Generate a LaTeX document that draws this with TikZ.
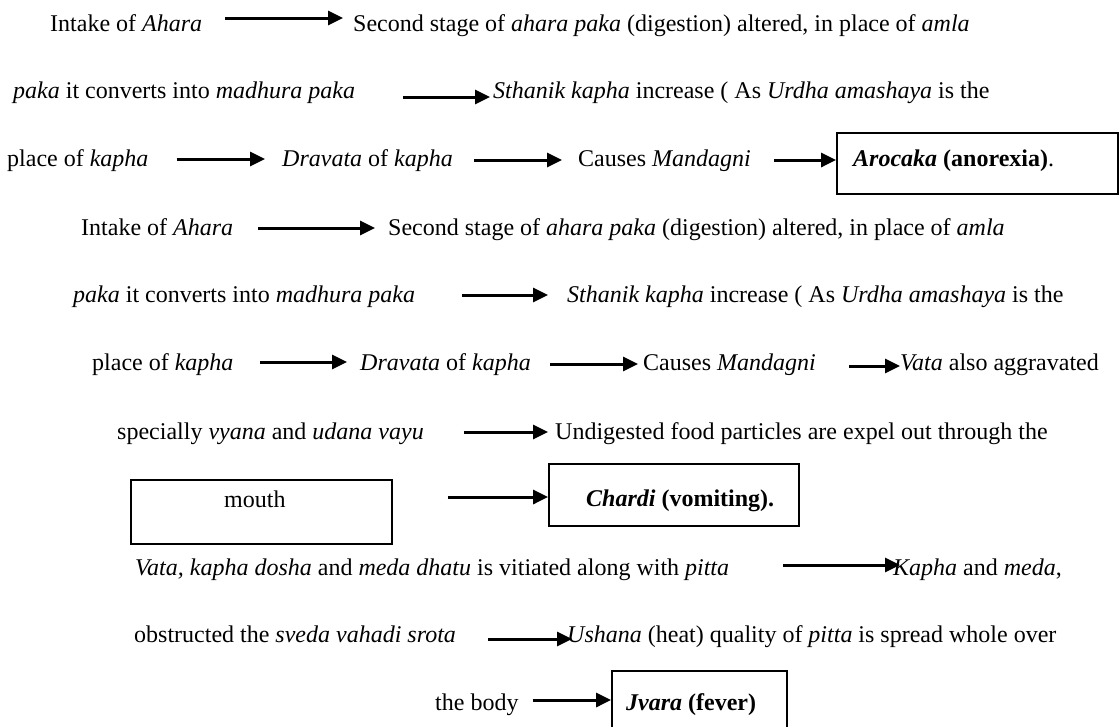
\documentclass[tikz,border=0pt]{standalone}
\usepackage{fontspec}
\setmainfont{Liberation Serif}
\usetikzlibrary{arrows.meta}

\begin{document}
\begin{tikzpicture}[x=1pt, y=-1pt,
    txt/.style={anchor=base west, inner sep=0pt, text height=18pt, text depth=4pt,
      font=\fontsize{24}{28}\selectfont},
    box/.style={draw, line width=1.8pt, inner sep=0pt},
    arr/.style={-{Triangle[length=15pt,width=14pt]}, line width=3pt}]
    \useasboundingbox (0,0) rectangle (1119,726);

    % Arocaka chain: three text rows ending in a box
    \node[txt] (intakeA) at (50,31) {Intake of \textit{Ahara}};
    \node[txt] (stageA) at (353,31) {Second stage of \textit{ahara paka} (digestion) altered, in place of \textit{amla}};
    \node[txt] (pakaA) at (13,98) {\textit{paka} it converts into \textit{madhura paka}};
    \node[txt] (sthanikA) at (493,98) {\textit{Sthanik kapha} increase ( As \textit{Urdha amashaya} is the};
    \node[txt] (placeA) at (7,166) {place of \textit{kapha}};
    \node[txt] (dravataA) at (282,166) {\textit{Dravata} of \textit{kapha}};
    \node[txt] (causesA) at (578,166) {Causes \textit{Mandagni}};
    \node[box, minimum width=281pt, minimum height=61pt] (arocakaBox) at (977.5,163.5) {};
    \node[txt] (arocaka) at (853,166) {\textbf{\textit{Arocaka} (anorexia)}.};

    \draw[arr] ([xshift=23pt,yshift=6pt]intakeA.east) -- ([xshift=-10pt,yshift=6pt]stageA.west);
    \draw[arr] ([xshift=48pt,yshift=-6pt]pakaA.east) -- ([xshift=-3pt,yshift=-6pt]sthanikA.west);
    \draw[arr] ([xshift=28pt]placeA.east) -- ([xshift=-17pt]dravataA.west);
    \draw[arr] ([xshift=21pt,yshift=-1pt]dravataA.east) -- ([xshift=-16pt,yshift=-1pt]causesA.west);
    \draw[arr] ([xshift=23pt,yshift=-1pt]causesA.east) -- ([yshift=3.5pt]arocakaBox.west);

    % Chardi chain
    \node[txt] (intakeB) at (81,235) {Intake of \textit{Ahara}};
    \node[txt] (stageB) at (388,235) {Second stage of \textit{ahara paka} (digestion) altered, in place of \textit{amla}};
    \node[txt] (pakaB) at (73,302) {\textit{paka} it converts into \textit{madhura paka}};
    \node[txt] (sthanikB) at (567,302) {\textit{Sthanik kapha} increase ( As \textit{Urdha amashaya} is the};
    \node[txt] (placeB) at (92,370) {place of \textit{kapha}};
    \node[txt] (dravataB) at (360,370) {\textit{Dravata} of \textit{kapha}};
    \node[txt] (causesB) at (643,370) {Causes \textit{Mandagni}};
    \node[txt] (vataB) at (900,370) {\textit{Vata} also aggravated};
    \node[txt] (vyanaB) at (117,439) {specially \textit{vyana} and \textit{udana vayu}};
    \node[txt] (expelB) at (555,439) {Undigested food particles are expel out through the};
    \node[box, minimum width=261pt, minimum height=64pt] (mouthBox) at (261.5,512) {};
    \node[txt] (mouth) at (224,507) {mouth};
    \node[box, minimum width=250pt, minimum height=62pt] (chardiBox) at (674,495) {};
    \node[txt] (chardi) at (586,506) {\textbf{\textit{Chardi} (vomiting).}};

    \draw[arr] ([xshift=25pt]intakeB.east) -- ([xshift=-13pt]stageB.west);
    \draw[arr] ([xshift=47pt]pakaB.east) -- ([xshift=-19pt]sthanikB.west);
    \draw[arr] ([xshift=26pt,yshift=1pt]placeB.east) -- ([xshift=-13pt,yshift=1pt]dravataB.west);
    \draw[arr] ([xshift=19pt,yshift=-1pt]dravataB.east) -- ([xshift=-5pt,yshift=-1pt]causesB.west);
    \draw[arr] ([xshift=33pt,yshift=-3pt]causesB.east) -- ([yshift=-3pt]vataB.west);
    \draw[arr] ([xshift=40pt]vyanaB.east) -- ([xshift=-7pt]expelB.west);
    \draw[arr] ([xshift=55pt,yshift=15pt]mouthBox.east) -- ([yshift=-2pt]chardiBox.west);

    % Jvara chain
    \node[txt] (vitiatedC) at (135,575) {\textit{Vata, kapha dosha} and \textit{meda dhatu} is vitiated along with \textit{pitta}};
    \node[txt] (medaC) at (893,575) {\textit{Kapha} and \textit{meda},};
    \node[txt] (srotaC) at (134,642) {obstructed the \textit{sveda vahadi srota}};
    \node[txt] (ushanaC) at (567,642) {\textit{Ushana} (heat) quality of \textit{pitta} is spread whole over};
    \node[txt] (bodyC) at (435,710) {the body};
    \node[box, minimum width=175pt, minimum height=64pt] (jvaraBox) at (699.5,703) {};
    \node[txt] (jvara) at (626,710) {\textbf{\textit{Jvara} (fever)}};

    \draw[arr] ([xshift=54pt,yshift=3pt]vitiatedC.east) -- ([xshift=7pt,yshift=3pt]medaC.west);
    \draw[arr] ([xshift=32pt,yshift=-4pt]srotaC.east) -- ([xshift=5pt,yshift=-4pt]ushanaC.west);
    \draw[arr] ([xshift=14pt,yshift=3pt]bodyC.east) -- ([yshift=3pt]jvaraBox.west);
\end{tikzpicture}
\end{document}
